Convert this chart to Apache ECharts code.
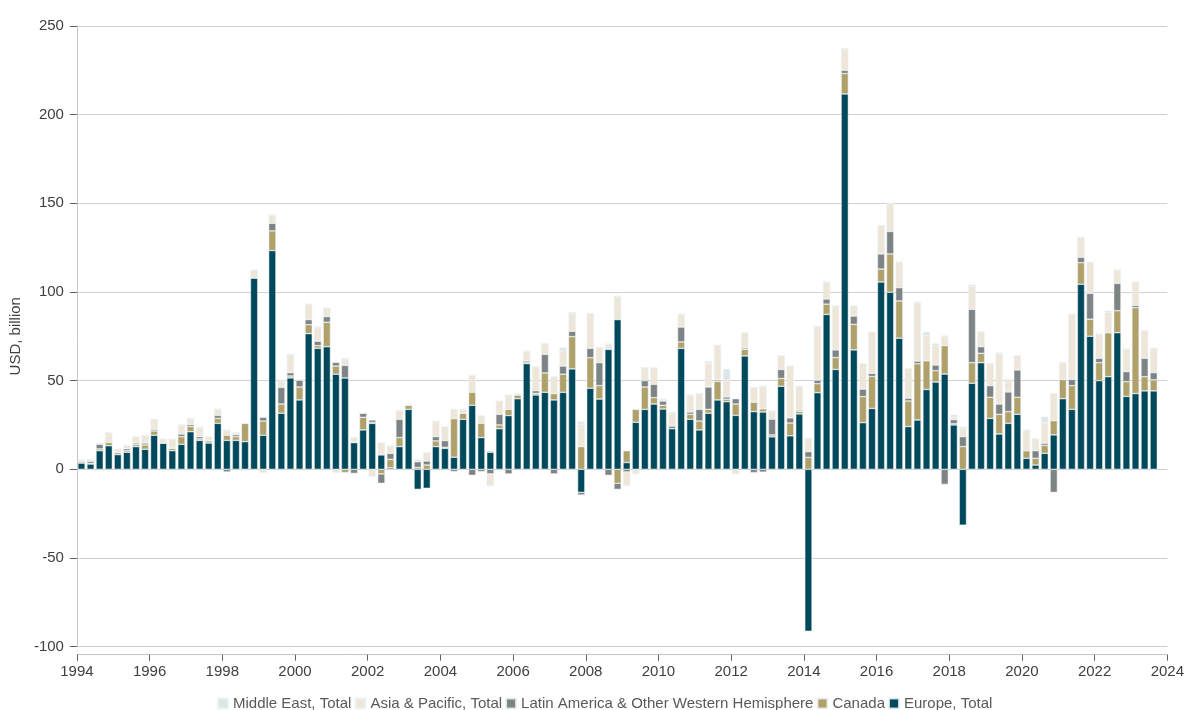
<!DOCTYPE html>
<html>
<head>
<meta charset="utf-8">
<script src="https://cdn.jsdelivr.net/npm/echarts@6/dist/echarts.min.js"></script>
<style>
html,body{margin:0;padding:0;background:#fff;}
#chart{width:1187px;height:710px;}
</style>
</head>
<body>
<div id="chart"></div>
<script>
// Quarterly periods 1994 Q1 .. 2023 Q4 (data runs to 2023 Q3)
var startYear = 1994;
var quarterSlots = 120;
var quarters = [];
for (var i = 0; i < quarterSlots; i++) {
  quarters.push((startYear + Math.floor(i / 4)) + ' Q' + (i % 4 + 1));
}

var europe = [3.5,3.0,10.5,13.3,8.3,9.6,12.8,11.3,19.2,14.7,10.5,14.1,21.2,16.3,14.8,25.9,16.3,16.3,15.6,107.9,
19.2,123.3,31.6,51.5,39.1,76.5,68.2,69.1,53.6,51.5,15.0,22.2,25.9,8.1,0.8,12.8,33.8,-11.3,-10.7,12.8,
11.8,6.8,28.2,36.1,17.9,9.6,22.9,30.3,39.8,59.6,41.9,43.4,39.1,43.4,56.6,-13.0,45.7,39.6,67.6,84.4,
3.8,26.5,33.8,36.8,34.0,22.9,68.2,28.2,22.2,31.6,39.1,38.1,30.4,63.9,32.5,32.3,18.3,46.8,18.9,31.2,
-91.3,43.2,87.3,56.3,211.6,67.3,26.3,34.3,105.6,99.8,73.9,24.1,27.8,45.0,49.2,53.7,25.0,-31.5,48.5,60.1,
28.7,19.9,25.9,31.0,6.2,2.4,9.0,19.4,39.8,33.8,104.3,75.0,50.0,52.2,77.0,41.1,42.7,44.2,44.2];

var canada = [0.7,0.3,1.0,1.9,1.1,0.9,1.1,2.4,2.4,0.3,1.3,4.3,2.9,0.8,1.2,2.8,2.9,2.1,10.3,0,
8.0,11.1,5.2,1.1,7.3,5.0,1.5,13.8,4.6,-1.9,0.6,7.1,0.5,-2.6,4.8,5.1,2.3,1.0,2.4,3.2,
0.6,21.8,3.4,7.3,8.0,0.7,2.1,3.5,2.1,0.5,0.9,10.9,3.6,10.2,18.2,12.8,17.2,7.6,0.5,-7.9,
6.7,7.3,12.6,3.6,2.1,-0.6,3.6,2.8,5.0,2.2,10.5,1.4,6.4,3.7,5.3,1.8,1.1,4.4,7.2,1.5,
6.7,5.1,5.8,6.7,11.5,14.4,14.7,18.0,7.3,21.6,21.0,14.4,31.7,16.2,6.4,16.0,0.7,12.8,11.6,5.3,
11.9,11.1,6.6,9.6,4.3,3.8,4.5,8.0,10.9,13.4,12.2,9.6,10.1,24.8,12.4,8.3,48.4,8.0,6.2];

var latinAmerica = [0.5,1.2,2.6,0,0.3,1.1,0.9,1.1,0.9,0,0.2,1.5,1.1,1.3,0.4,1.7,-1.5,1.1,0,0,
2.1,4.3,9.4,1.9,4.0,2.9,2.5,3.2,2.1,7.1,-2.3,2.3,1.4,-5.3,3.4,10.3,0,3.3,2.3,2.4,
3.8,-1.3,0,-3.4,-1.3,-2.6,6.0,-2.6,0,1.0,1.5,10.5,-2.6,4.6,3.0,-1.5,5.3,12.9,-3.4,-3.4,
-1.5,0,3.6,7.5,2.4,1.5,8.4,1.3,6.6,12.6,0.8,1.3,3.0,0.8,-1.9,-1.6,8.9,5.1,2.9,0.7,
3.3,2.0,2.9,4.3,1.8,4.7,4.2,1.8,8.5,12.7,7.5,1.6,1.5,0,3.2,-8.5,2.3,5.6,30.1,3.7,
6.6,5.8,11.1,15.4,0,4.3,1.2,-13.0,0,3.5,3.0,14.6,2.5,0,15.4,5.7,1.3,10.4,4.1];

var asiaPacific = [0.5,1.0,0.6,5.5,1.6,1.7,3.6,4.4,5.7,2.1,5.0,5.1,3.5,5.3,2.0,3.6,3.0,1.2,-0.7,4.5,
-1.9,4.7,4.2,10.3,0,8.8,7.5,5.0,-1.9,3.8,2.3,0,-4.1,6.9,4.2,4.9,0.4,1.3,4.7,8.8,
7.9,5.2,2.2,9.6,4.4,-6.6,7.5,8.1,0.8,5.2,13.6,6.2,9.5,8.7,10.1,12.6,19.7,8.7,2.6,12.9,
-7.7,-2.6,7.3,9.4,1.1,7.7,7.2,9.6,8.9,13.4,19.5,9.6,-2.6,8.6,8.4,12.7,4.7,7.8,29.3,13.4,
7.4,30.3,9.6,24.9,11.8,5.8,14.5,23.4,16.0,15.8,14.5,16.7,33.2,14.1,10.9,5.5,1.3,4.7,12.8,8.5,
12.6,28.2,7.1,8.1,11.7,6.8,11.6,15.4,9.6,36.7,11.3,17.5,13.7,11.3,7.6,12.7,13.2,15.6,13.7];

var middleEast = [0,0,0,0,0,0,0,0,0,0,0,0,0,0,0,0,0,0,0,0,
0,0,0,0,0,0,0.8,0,0,0,0,0,0,0,0,0,0,0,0,0,
0,0,0,0,0,0,0,0,0,0.6,0,0,0,1.7,0.8,1.5,0,0,0,0.6,
0,0,0,0,0,0,0,0,0,1.1,0,6.2,0,0,0,0,0,0,0,0,
0,0,0,0,0.7,0,0,0,0,0,0,0,0,2.2,1.3,0,1.5,0.9,1.1,0,
0,0.8,0,0,0,0,3.4,0,0,0,0,0,0,1.1,0,0,0,0,0];

var seriesNames = ['Europe, Total', 'Canada', 'Latin America & Other Western Hemisphere', 'Asia & Pacific, Total', 'Middle East, Total'];
var legendOrder = ['Middle East, Total', 'Asia & Pacific, Total', 'Latin America & Other Western Hemisphere', 'Canada', 'Europe, Total'];
var seriesColors = ['#00485B', '#B0A16B', '#7E8386', '#EDE6D9', '#DCE6E8'];
var yTicks = { min: -100, max: 250, interval: 50 };
var xTicks = { min: 1994, max: 2024, interval: 2 };

var allValues = [europe, canada, latinAmerica, asiaPacific, middleEast];
var font = 'Liberation Sans, Arial, Helvetica, sans-serif';

var series = allValues.map(function (vals, k) {
  return {
    name: seriesNames[k],
    type: 'bar',
    stack: 'total',
    stackStrategy: 'samesign',
    xAxisIndex: 0,
    barWidth: '80%',
    data: vals,
    itemStyle: {
      color: seriesColors[k],
      borderColor: 'rgba(235,242,244,0.85)',
      borderWidth: 0.6
    },
    emphasis: { disabled: true }
  };
});

var chart = echarts.init(document.getElementById('chart'), null, { renderer: 'canvas' });
chart.setOption({
  animation: false,
  backgroundColor: '#ffffff',
  textStyle: { fontFamily: font },
  grid: { left: 76, right: 19, top: 25.8, bottom: 63.3, containLabel: false },
  legend: {
    data: legendOrder,
    left: 212,
    top: 691,
    icon: 'rect',
    itemWidth: 10,
    itemHeight: 10,
    itemGap: 3,
    textStyle: { fontSize: 15, color: '#595959', fontFamily: font },
    selectedMode: false
  },
  xAxis: [{
    type: 'category',
    data: quarters,
    boundaryGap: true,
    axisLine: { show: false },
    axisTick: { show: false },
    axisLabel: { show: false },
    splitLine: { show: false }
  }, {
    type: 'value',
    position: 'bottom',
    min: xTicks.min,
    max: xTicks.max,
    interval: xTicks.interval,
    offset: 8,
    axisLine: { show: true, lineStyle: { color: '#c4c4c4', width: 1 } },
    axisTick: { show: true, length: 6, lineStyle: { color: '#606060' } },
    axisLabel: {
      color: '#404040', fontSize: 15, fontFamily: font, margin: 10,
      formatter: function (v) { return String(v); }
    },
    splitLine: { show: false }
  }],
  yAxis: {
    type: 'value',
    min: yTicks.min,
    max: yTicks.max,
    interval: yTicks.interval,
    name: 'USD, billion',
    nameLocation: 'middle',
    nameGap: 51,
    nameTextStyle: { color: '#404040', fontSize: 15, fontFamily: font },
    axisLine: { show: true, lineStyle: { color: '#c4c4c4', width: 1 } },
    axisTick: { show: true, length: 7, lineStyle: { color: '#606060' } },
    axisLabel: { color: '#404040', fontSize: 15, fontFamily: font, margin: 13 },
    splitLine: { show: true, lineStyle: { color: '#d0d0d0', width: 1 } }
  },
  series: series
});
</script>
</body>
</html>
